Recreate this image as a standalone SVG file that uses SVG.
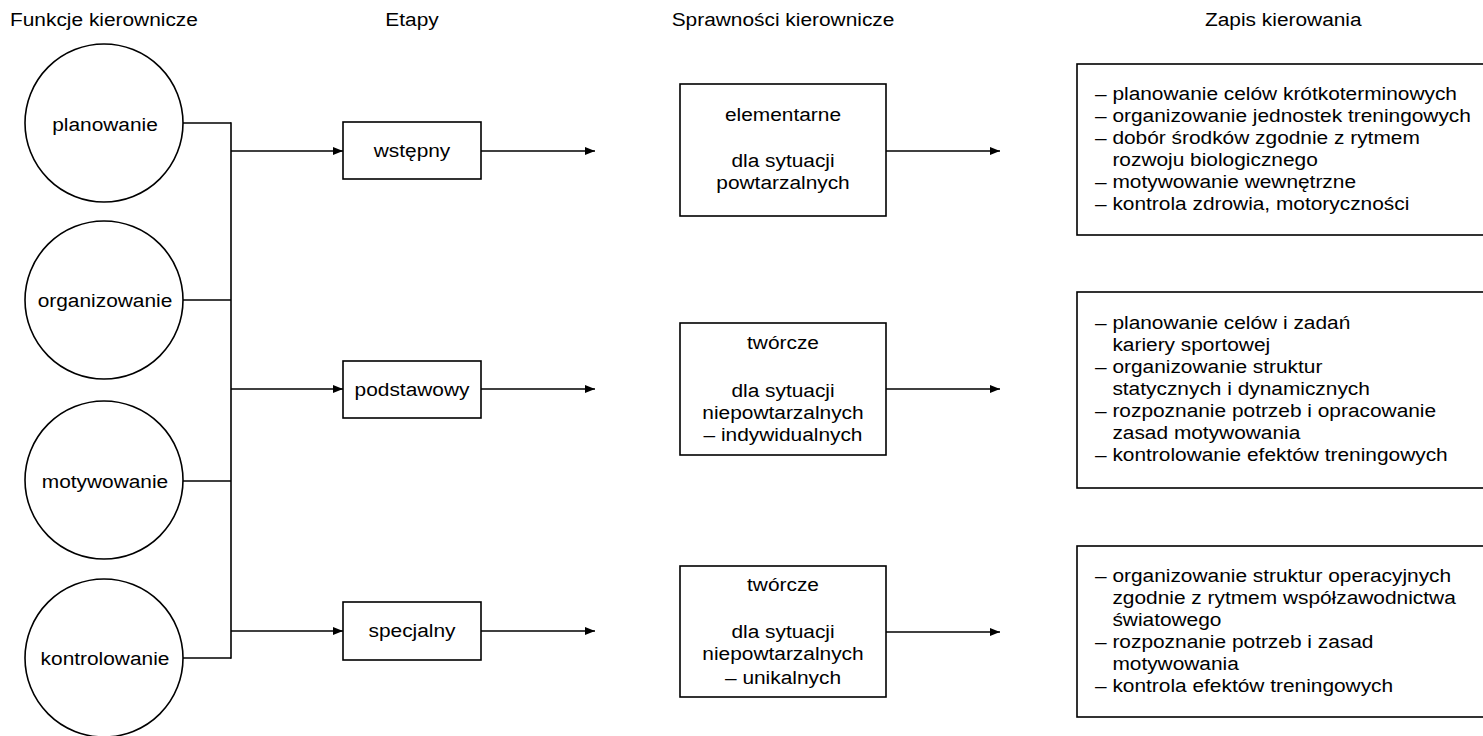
<svg xmlns="http://www.w3.org/2000/svg" width="1483" height="736" viewBox="0 0 1483 736">
<style>
text { font-family: "Liberation Sans", Arial, sans-serif; font-size: 18px; fill: #000; }
.c { text-anchor: middle; }
.shape { fill: #fff; stroke: #000; stroke-width: 1.6; }
.conn line { stroke: #000; stroke-width: 1.6; fill: none; }
.arr { marker-end: url(#ah); }
</style>
<defs>
<marker id="ah" markerUnits="userSpaceOnUse" markerWidth="11" markerHeight="9" refX="10" refY="4" orient="auto">
<path d="M0,0 L10,4 L0,8 z" fill="#000"/>
</marker>
</defs>
<rect width="1483" height="736" fill="#fff"/>

<g id="headers">
<text transform="translate(10,26) scale(1.16,1)">Funkcje kierownicze</text>
<text class="c" transform="translate(412,26) scale(1.16,1)">Etapy</text>
<text class="c" transform="translate(783,26) scale(1.16,1)">Sprawności kierownicze</text>
<text transform="translate(1205,26) scale(1.16,1)">Zapis kierowania</text>
</g>

<g class="conn" id="connectors">
<line x1="183" y1="123" x2="231" y2="123"/>
<line x1="183" y1="300" x2="231" y2="300"/>
<line x1="183" y1="481" x2="231" y2="481"/>
<line x1="183" y1="658" x2="231" y2="658"/>
<line x1="231" y1="122.2" x2="231" y2="658.8"/>
<line class="arr" x1="231" y1="151" x2="343" y2="151"/>
<line class="arr" x1="231" y1="389" x2="343" y2="389"/>
<line class="arr" x1="231" y1="631" x2="343" y2="631"/>
<line class="arr" x1="481" y1="151" x2="595" y2="151"/>
<line class="arr" x1="481" y1="389" x2="595" y2="389"/>
<line class="arr" x1="481" y1="631" x2="595" y2="631"/>
<line class="arr" x1="886" y1="151" x2="1000" y2="151"/>
<line class="arr" x1="886" y1="389" x2="1000" y2="389"/>
<line class="arr" x1="886" y1="632" x2="1000" y2="632"/>
</g>

<g id="f-planowanie">
<circle class="shape" cx="104" cy="123" r="79"/>
<text class="c" transform="translate(105,131) scale(1.16,1)">planowanie</text>
</g>
<g id="f-organizowanie">
<circle class="shape" cx="104" cy="300" r="79"/>
<text class="c" transform="translate(105,307) scale(1.16,1)">organizowanie</text>
</g>
<g id="f-motywowanie">
<circle class="shape" cx="104" cy="480" r="79"/>
<text class="c" transform="translate(105,488) scale(1.16,1)">motywowanie</text>
</g>
<g id="f-kontrolowanie">
<circle class="shape" cx="104" cy="658" r="79"/>
<text class="c" transform="translate(105,665) scale(1.16,1)">kontrolowanie</text>
</g>

<g id="e-wstepny">
<rect class="shape" x="343" y="122" width="138" height="57"/>
<text class="c" transform="translate(412,157) scale(1.16,1)">wstępny</text>
</g>
<g id="e-podstawowy">
<rect class="shape" x="343" y="361" width="138" height="57"/>
<text class="c" transform="translate(412,395.5) scale(1.16,1)">podstawowy</text>
</g>
<g id="e-specjalny">
<rect class="shape" x="343" y="602" width="138" height="58"/>
<text class="c" transform="translate(412,637) scale(1.16,1)">specjalny</text>
</g>

<g id="s-elementarne">
<rect class="shape" x="680" y="84" width="206" height="132"/>
<text class="c" transform="translate(783,0) scale(1.16,1)"><tspan x="0" y="121">elementarne</tspan><tspan x="0" y="167.5">dla sytuacji</tspan><tspan x="0" y="189">powtarzalnych</tspan></text>
</g>
<g id="s-tworcze-1">
<rect class="shape" x="680" y="323" width="206" height="132"/>
<text class="c" transform="translate(783,0) scale(1.16,1)"><tspan x="0" y="349">twórcze</tspan><tspan x="0" y="397">dla sytuacji</tspan><tspan x="0" y="419">niepowtarzalnych</tspan><tspan x="0" y="441">– indywidualnych</tspan></text>
</g>
<g id="s-tworcze-2">
<rect class="shape" x="680" y="566" width="206" height="131"/>
<text class="c" transform="translate(783,0) scale(1.16,1)"><tspan x="0" y="591">twórcze</tspan><tspan x="0" y="638">dla sytuacji</tspan><tspan x="0" y="660">niepowtarzalnych</tspan><tspan x="0" y="684">– unikalnych</tspan></text>
</g>

<g id="z-1">
<rect class="shape" x="1077" y="64" width="412" height="171"/>
<text transform="translate(1095,0) scale(1.16,1)"><tspan x="0" y="100.5">– planowanie celów krótkoterminowych</tspan><tspan x="0" y="122.5">– organizowanie jednostek treningowych</tspan><tspan x="0" y="144.5">– dobór środków zgodnie z rytmem</tspan><tspan x="15" y="166.5">rozwoju biologicznego</tspan><tspan x="0" y="188.5">– motywowanie wewnętrzne</tspan><tspan x="0" y="210.5">– kontrola zdrowia, motoryczności</tspan></text>
</g>
<g id="z-2">
<rect class="shape" x="1077" y="292" width="412" height="196"/>
<text transform="translate(1095,0) scale(1.16,1)"><tspan x="0" y="329.5">– planowanie celów i zadań</tspan><tspan x="15" y="351.5">kariery sportowej</tspan><tspan x="0" y="373.5">– organizowanie struktur</tspan><tspan x="15" y="395.5">statycznych i dynamicznych</tspan><tspan x="0" y="417.5">– rozpoznanie potrzeb i opracowanie</tspan><tspan x="15" y="439.5">zasad motywowania</tspan><tspan x="0" y="461.5">– kontrolowanie efektów treningowych</tspan></text>
</g>
<g id="z-3">
<rect class="shape" x="1077" y="546" width="412" height="171"/>
<text transform="translate(1095,0) scale(1.16,1)"><tspan x="0" y="582.5">– organizowanie struktur operacyjnych</tspan><tspan x="15" y="604.5">zgodnie z rytmem współzawodnictwa</tspan><tspan x="15" y="626.5">światowego</tspan><tspan x="0" y="648.5">– rozpoznanie potrzeb i zasad</tspan><tspan x="15" y="670.5">motywowania</tspan><tspan x="0" y="692.5">– kontrola efektów treningowych</tspan></text>
</g>
</svg>
